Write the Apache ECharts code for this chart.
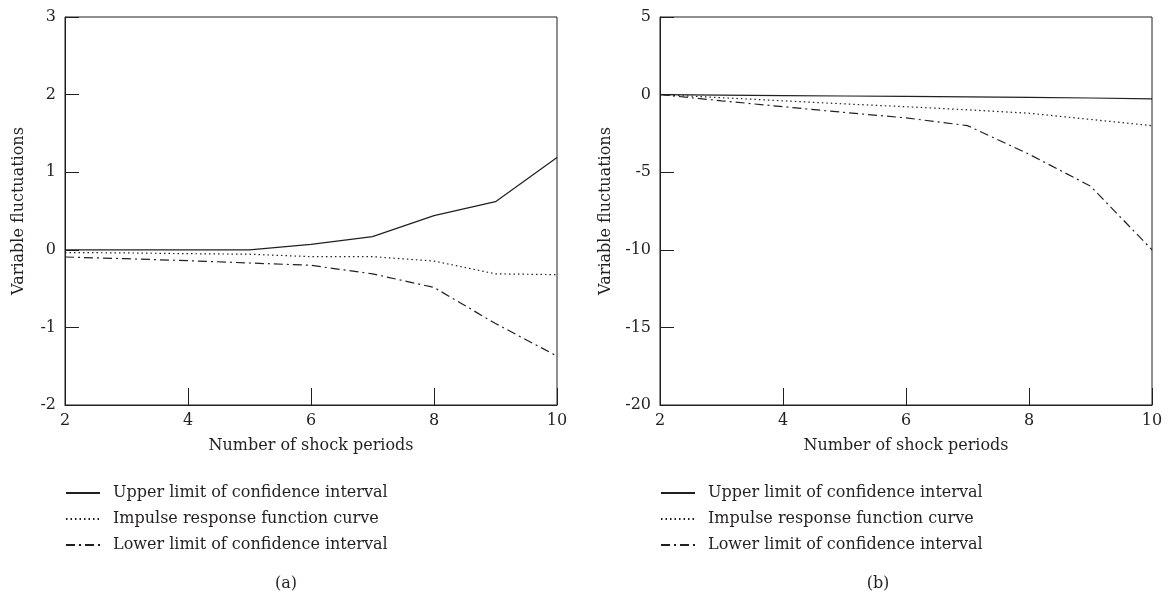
<!DOCTYPE html>
<html>
<head>
<meta charset="utf-8">
<script src="https://cdn.jsdelivr.net/npm/echarts@6/dist/echarts.min.js"></script>
<style>
  html, body { margin: 0; padding: 0; background: #fff; }
  #chart { width: 1167px; height: 599px; }
</style>
</head>
<body>
<div id="chart"></div>
<script>
  // shock periods on the x axis
  const periods = [2, 3, 4, 5, 6, 7, 8, 9, 10];

  // panel (a)
  const upperA = [0, 0, 0, 0, 0.07, 0.17, 0.44, 0.62, 1.19];
  const irfA = [-0.035, -0.04, -0.05, -0.057, -0.088, -0.088, -0.145, -0.31, -0.32];
  const lowerA = [-0.093, -0.115, -0.14, -0.17, -0.2, -0.31, -0.485, -0.95, -1.37];

  // panel (b)
  const upperB = [0, -0.03, -0.06, -0.09, -0.12, -0.15, -0.18, -0.22, -0.27];
  const irfB = [0, -0.2, -0.4, -0.6, -0.78, -0.98, -1.2, -1.6, -2.0];
  const lowerB = [0, -0.4, -0.78, -1.15, -1.5, -2.0, -3.84, -5.9, -10.0];

  const seriesNames = [
    'Upper limit of confidence interval',
    'Impulse response function curve',
    'Lower limit of confidence interval'
  ];

  const ink = '#231f20';
  const font = 'DejaVu Serif';
  const lineTypes = ['solid', [1.5, 3], [9, 4, 2, 4]];

  function pairs(ys) {
    return periods.map((x, i) => [x, ys[i]]);
  }

  function xAxisFor(gridIndex) {
    return {
      type: 'value',
      gridIndex,
      min: 2,
      max: 10,
      interval: 2,
      name: 'Number of shock periods',
      nameLocation: 'middle',
      nameGap: 33,
      nameTextStyle: { color: ink, fontFamily: font, fontSize: 16 },
      axisLine: { onZero: false, lineStyle: { color: ink, width: 1 } },
      axisTick: { inside: true, length: 17, lineStyle: { color: ink } },
      axisLabel: { color: ink, fontFamily: font, fontSize: 16, margin: 8 },
      splitLine: { show: false }
    };
  }

  function yAxisFor(gridIndex, min, max, interval, gap) {
    return {
      type: 'value',
      gridIndex,
      min,
      max,
      interval,
      name: 'Variable fluctuations',
      nameLocation: 'middle',
      nameGap: gap,
      nameTextStyle: { color: ink, fontFamily: font, fontSize: 16 },
      axisLine: { onZero: false, lineStyle: { color: ink, width: 1 } },
      axisTick: { inside: true, length: 14, lineStyle: { color: ink } },
      axisLabel: { color: ink, fontFamily: font, fontSize: 16, margin: 9 },
      splitLine: { show: false }
    };
  }

  function linesFor(gridIndex, data) {
    return data.map((ys, k) => ({
      name: seriesNames[k],
      type: 'line',
      xAxisIndex: gridIndex,
      yAxisIndex: gridIndex,
      data: pairs(ys),
      symbol: 'none',
      lineStyle: { color: ink, width: 1.2, type: lineTypes[k] },
      itemStyle: { color: ink }
    }));
  }

  function legendFor(left) {
    return {
      orient: 'vertical',
      left,
      top: 485,
      padding: 0,
      itemWidth: 34,
      itemHeight: 12,
      itemGap: 10,
      data: seriesNames,
      selectedMode: false,
      itemStyle: { opacity: 0 },
      textStyle: { color: ink, fontFamily: font, fontSize: 16, padding: [0, 0, 0, 8] }
    };
  }

  const chart = echarts.init(document.getElementById('chart'));

  chart.setOption({
    animation: false,
    backgroundColor: '#fff',

    grid: [
      { left: 65, top: 17, width: 492, height: 388, show: true, borderColor: ink, borderWidth: 1 },
      { left: 660, top: 17, width: 492, height: 388, show: true, borderColor: ink, borderWidth: 1 }
    ],

    xAxis: [xAxisFor(0), xAxisFor(1)],
    yAxis: [yAxisFor(0, -2, 3, 1, 38), yAxisFor(1, -20, 5, 5, 46)],

    legend: [legendFor(65), legendFor(660)],

    graphic: [
      { type: 'text', x: 286, y: 576, style: { text: '(a)', fill: ink, font: '16px "' + font + '"', align: 'center' } },
      { type: 'text', x: 878, y: 576, style: { text: '(b)', fill: ink, font: '16px "' + font + '"', align: 'center' } }
    ],

    series: [
      ...linesFor(0, [upperA, irfA, lowerA]),
      ...linesFor(1, [upperB, irfB, lowerB])
    ]
  });
</script>
</body>
</html>
